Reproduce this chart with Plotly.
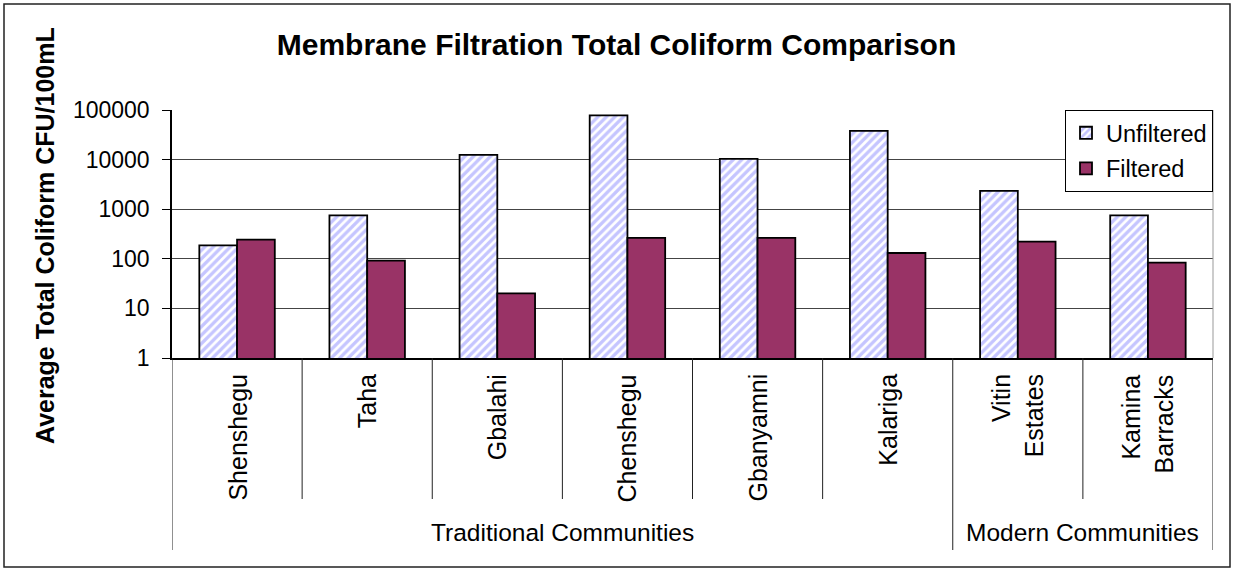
import plotly.graph_objects as go

# ---- data ----
communities = ["Shenshegu", "Taha", "Gbalahi", "Chenshegu", "Gbanyamni",
               "Kalariga", "Vitin Estates", "Kamina Barracks"]
community_labels = ["Shenshegu", "Taha", "Gbalahi", "Chenshegu", "Gbanyamni",
                    "Kalariga", "Vitin<br>Estates", "Kamina<br>Barracks"]
groups = ["Traditional Communities", "Modern Communities"]
group_sizes = [6, 2]
unfiltered = [187, 750, 12500, 78000, 10300, 38000, 2350, 750]
filtered = [243, 92, 20, 265, 265, 131, 221, 84]
tick_vals = [1, 10, 100, 1000, 10000, 100000]
tick_text = ["1", "10", "100", "1000", "10000", "100000"]

# ---- geometry helpers (pixels -> paper) ----
W, H = 1233, 571
L, R, T, B = 172, 1213, 110, 358
PW, PH = R - L, B - T


def px(x):
    return (x - L) / PW


def py(y):
    return (B - y) / PH


FONT = "Liberation Sans, Arial, sans-serif"

fig = go.Figure()
fig.add_trace(go.Bar(
    x=communities, y=unfiltered, name="Unfiltered", legendgroup="u",
    marker=dict(color="white",
                line=dict(color="black", width=1.8),
                pattern=dict(shape="/", fgcolor="#8C8CFF", bgcolor="white",
                             size=6, solidity=0.55)),
))
fig.add_trace(go.Bar(
    x=communities, y=filtered, name="Filtered", legendgroup="f",
    marker=dict(color="#993366", line=dict(color="black", width=1.8)),
))

shapes = []
# outer chart frame
shapes.append(dict(type="rect", xref="paper", yref="paper",
                   x0=px(4), x1=px(1230), y0=py(567), y1=py(4),
                   line=dict(color="#222", width=1.5), layer="below"))
# plot-area right edge (light gray)
shapes.append(dict(type="line", xref="paper", yref="paper",
                   x0=1, x1=1, y0=0, y1=1, line=dict(color="#999", width=1)))
# category separators
n = len(communities)
outer_bounds = [-0.5]
acc = -0.5
for s in group_sizes:
    acc += s
    outer_bounds.append(acc)
for i in range(n + 1):
    xb = i - 0.5
    is_outer = any(abs(xb - ob) < 1e-9 for ob in outer_bounds)
    shapes.append(dict(type="line", xref="x", yref="paper",
                       x0=xb, x1=xb, y0=0, y1=py(550 if is_outer else 499),
                       line=dict(color="#222", width=1)))

annotations = []
for name, lab in zip(communities, community_labels):
    annotations.append(dict(x=name, xref="x", y=py(372), yref="paper",
                            text=lab, textangle=-90, showarrow=False,
                            xanchor="center", yanchor="top", align="right",
                            font=dict(family=FONT, size=25, color="black")))
start = -0.5
for g, s in zip(groups, group_sizes):
    annotations.append(dict(x=start + s / 2, xref="x", y=py(532), yref="paper",
                            text=g, showarrow=False, xanchor="center",
                            yanchor="middle",
                            font=dict(family=FONT, size=24.5, color="black")))
    start += s
annotations.append(dict(x=px(45), y=py(236), xref="paper", yref="paper",
                        text="<b>Average Total Coliform CFU/100mL</b>",
                        textangle=-90, showarrow=False, xanchor="center",
                        yanchor="middle",
                        font=dict(family=FONT, size=25, color="black")))

fig.update_layout(
    width=W, height=H,
    margin=dict(l=L, r=W - R, t=T, b=H - B, pad=0),
    paper_bgcolor="white", plot_bgcolor="white",
    title=dict(text="<b>Membrane Filtration Total Coliform Comparison</b>",
               x=0.5, xref="container", xanchor="center",
               y=1 - 44 / H, yref="container", yanchor="middle",
               font=dict(family=FONT, size=30, color="black")),
    barmode="group", bargap=0.42, bargroupgap=0,
    showlegend=True,
    legend=dict(x=1, xanchor="right", y=1, yanchor="top",
                bgcolor="white", bordercolor="black", borderwidth=1,
                font=dict(family=FONT, size=23.5, color="black"),
                traceorder="grouped", tracegroupgap=2, itemwidth=30),
    shapes=shapes, annotations=annotations,
    font=dict(family=FONT, color="black"),
)
fig.update_xaxes(type="category", range=[-0.5, n - 0.5], showticklabels=False,
                 showline=True, linecolor="black", linewidth=1.5,
                 showgrid=False, ticks="", zeroline=False)
fig.update_yaxes(type="log", range=[0, 5], tickmode="array",
                 tickvals=tick_vals, ticktext=tick_text,
                 showline=True, linecolor="black", linewidth=1.5,
                 ticks="outside", ticklen=8, tickcolor="black",
                 ticklabelstandoff=8,
                 showgrid=True, gridcolor="#444", gridwidth=1,
                 tickfont=dict(family=FONT, size=23, color="black"),
                 zeroline=False)

fig.write_html("out.html", config={"displayModeBar": False},
               post_script="document.body.style.margin='0';"
                           "document.body.style.overflow='hidden';")
